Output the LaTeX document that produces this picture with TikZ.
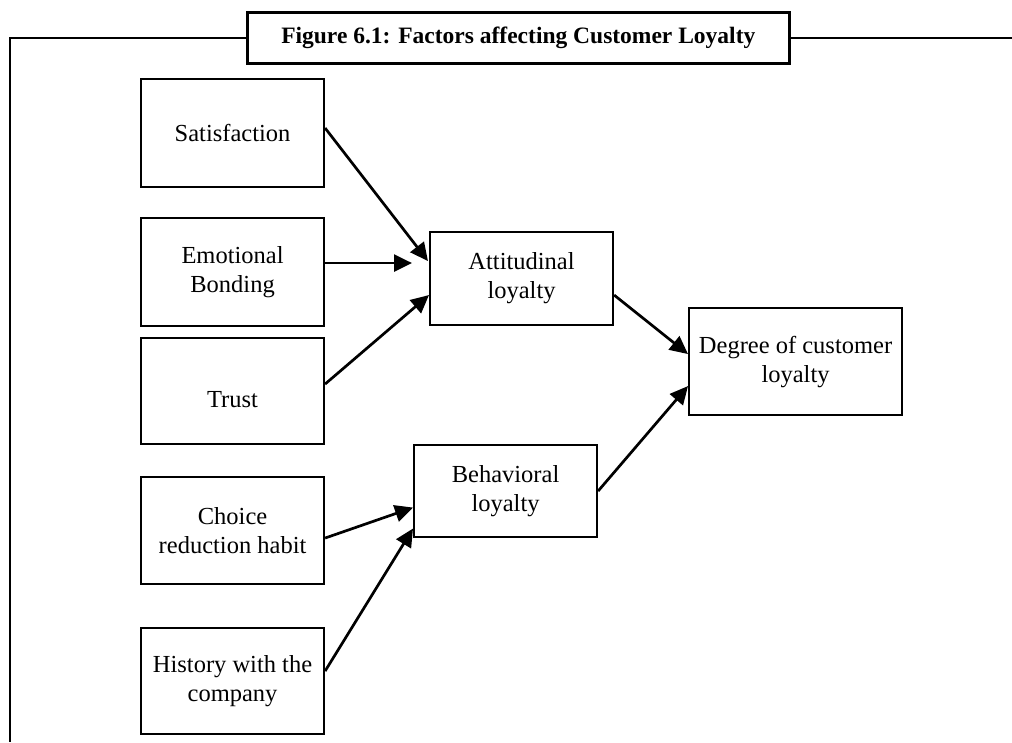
\documentclass[tikz,border=0pt]{standalone}
\usepackage{fontspec}
\setmainfont{Liberation Serif}
\usetikzlibrary{arrows.meta}
\begin{document}
\begin{tikzpicture}[x=1pt,y=-1pt,
  factor/.style={draw, line width=2.1pt, inner sep=0pt, align=center,
    anchor=north west, font=\fontsize{24.5}{29}\selectfont},
  link/.style={line width=2.7pt, -{Triangle[length=18pt,width=17pt]}},
  frameline/.style={line width=2.8pt},
  titlebox/.style={draw, line width=2.6pt, fill=white, inner sep=0pt,
    anchor=north west, font=\bfseries\fontsize{23.5}{28}\selectfont}]
\useasboundingbox (0,0) rectangle (1012,742);

% outer frame and heading
\coordinate (ftop) at (10,38);
\coordinate (fbot) at (10,742);
\coordinate (fright) at (1012,38);
\node[titlebox, minimum width=542pt, minimum height=51pt] (title) at (246,11)
  {Figure 6.1: Factors affecting Customer Loyalty};
\draw[frameline] (ftop -| title.west) -- (ftop) -- (fbot);
\draw[frameline] (fright -| title.east) -- (fright);

% factors
\node[factor, minimum width=183pt, minimum height=108pt] (sat) at (140,78) {Satisfaction};
\node[factor, minimum width=183pt, minimum height=108pt] (emo) at (140,217) {Emotional\\Bonding};
\node[factor, minimum width=183pt, minimum height=106pt] (trust) at (140,337) {Trust\rule{0pt}{33pt}};
\node[factor, minimum width=183pt, minimum height=107pt] (choice) at (140,476) {Choice\\reduction habit};
\node[factor, minimum width=183pt, minimum height=106pt] (hist) at (140,627) {History with the\\company};

% loyalty dimensions
\node[factor, minimum width=183pt, minimum height=93pt] (att) at (429,231) {Attitudinal\\loyalty};
\node[factor, minimum width=183pt, minimum height=92pt] (beh) at (413,444) {Behavioral\\loyalty};
\node[factor, minimum width=213pt, minimum height=107pt] (deg) at (688,307) {Degree of customer\\loyalty};

% connectors
\draw[link] ([yshift=5pt]sat.east) -- ([xshift=-1pt,yshift=17.5pt]att.west);
\draw[link] ([yshift=9pt]emo.east) -- ([xshift=-17pt,yshift=15.5pt]att.west);
\draw[link] ([yshift=7pt]trust.east) -- ([yshift=-16.5pt]att.west);
\draw[link] ([yshift=-7.5pt]choice.east) -- ([yshift=-16.5pt]beh.west);
\draw[link] ([yshift=10pt]hist.east) -- ([yshift=-37.5pt]beh.west);
\draw[link] ([yshift=-16.5pt]att.east) -- ([yshift=7.5pt]deg.west);
\draw[link] (beh.east) -- ([yshift=-24.5pt]deg.west);
\end{tikzpicture}
\end{document}
